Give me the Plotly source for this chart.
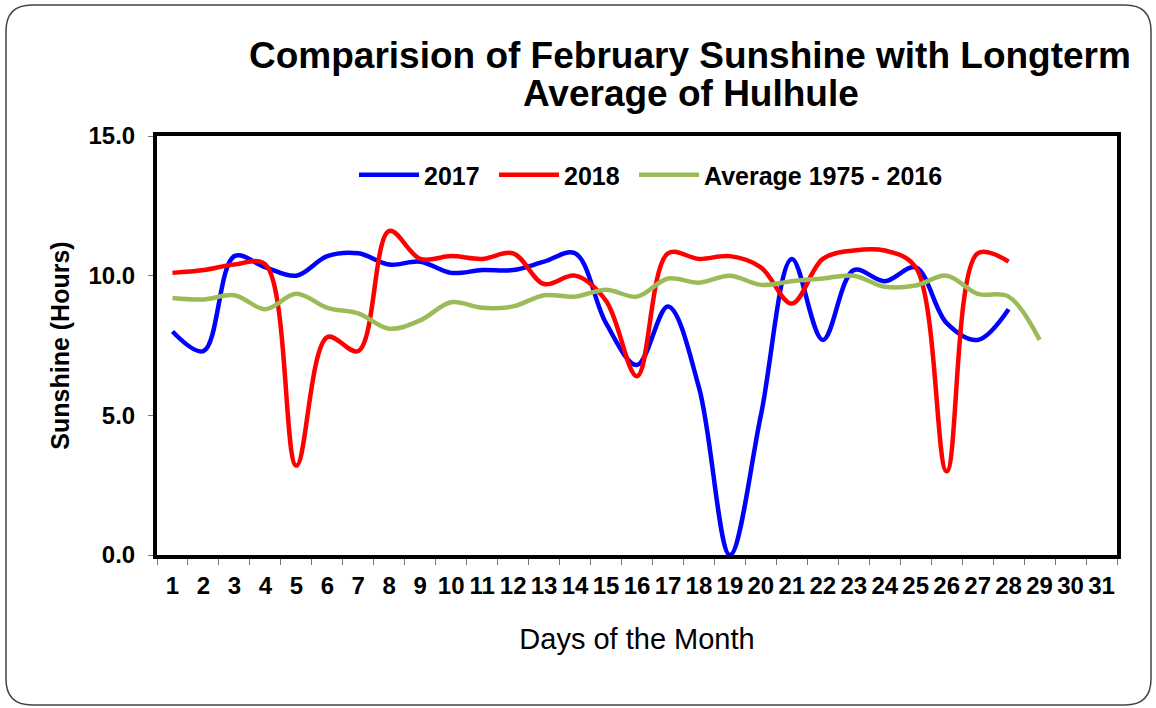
import plotly.graph_objects as go

days = [str(d) for d in range(1, 32)]
days_2017 = days[:28]
sun_2017 = [8.0, 7.3, 10.7, 10.3, 10.0, 10.7, 10.8, 10.4, 10.5, 10.1, 10.2, 10.2, 10.5, 10.8,
            8.3, 6.8, 8.9, 6.0, 0.0, 5.0, 10.6, 7.7, 10.2, 9.8, 10.3, 8.3, 7.7, 8.8]
days_2018 = days[:28]
sun_2018 = [10.1, 10.2, 10.4, 10.4, 3.2, 7.8, 7.3, 11.6, 10.6, 10.7, 10.6, 10.8, 9.7, 10.0,
            9.1, 6.4, 10.8, 10.6, 10.7, 10.3, 9.0, 10.6, 10.9, 10.9, 10.3, 3.0, 10.8, 10.5]
days_avg = days[:29]
sun_avg = [9.2, 9.15, 9.3, 8.8, 9.35, 8.85, 8.65, 8.1, 8.4, 9.05, 8.85, 8.9, 9.3, 9.25,
           9.5, 9.25, 9.9, 9.75, 10.0, 9.67, 9.8, 9.9, 10.0, 9.6, 9.65, 10.0, 9.35, 9.25, 7.7]
y_ticks = [0, 5, 10, 15]
y_tick_labels = ["0.0", "5.0", "10.0", "15.0"]

W, H = 1156, 708
L, R, T, B = 157, 1117, 136, 555

def px(x):
    return (x - L) / (R - L)

def py(y):
    return (B - y) / (B - T)

fig = go.Figure()
series = [("2017", days_2017, sun_2017, "#0000FF", "legend", 354),
          ("2018", days_2018, sun_2018, "#FF0000", "legend2", 494),
          ("Average 1975 - 2016", days_avg, sun_avg, "#9BBB59", "legend3", 634)]
legend_font = dict(size=25, family="Liberation Sans, Arial", color="black", weight="bold")
legends = {}
for name, xs, ys, col, lg, lx in series:
    fig.add_trace(go.Scatter(x=xs, y=ys, mode="lines", name=name, legend=lg,
                             line=dict(color=col, width=4.5, shape="spline", smoothing=1.0)))
    legends[lg] = dict(orientation="h", x=px(lx), y=py(175), xanchor="left", yanchor="middle",
                       font=legend_font, bgcolor="rgba(0,0,0,0)", itemwidth=60)

# rounded slide border
x0, x1, y0, y1, r = 6, 1151, 5, 705, 26
path = (f"M {px(x0+r)},{py(y0)} L {px(x1-r)},{py(y0)} Q {px(x1)},{py(y0)} {px(x1)},{py(y0+r)} "
        f"L {px(x1)},{py(y1-r)} Q {px(x1)},{py(y1)} {px(x1-r)},{py(y1)} "
        f"L {px(x0+r)},{py(y1)} Q {px(x0)},{py(y1)} {px(x0)},{py(y1-r)} "
        f"L {px(x0)},{py(y0+r)} Q {px(x0)},{py(y0)} {px(x0+r)},{py(y0)} Z")
fig.add_shape(type="path", path=path, xref="paper", yref="paper",
              line=dict(color="#444444", width=1.5), layer="below")

fig.add_annotation(text="<b>Comparision of February Sunshine with Longterm</b>",
                   x=px(690), y=py(55), xref="paper", yref="paper", showarrow=False,
                   xanchor="center", yanchor="middle",
                   font=dict(family="Liberation Sans, Arial", size=37, color="black"))
fig.add_annotation(text="<b>Average of Hulhule</b>",
                   x=px(691), y=py(94), xref="paper", yref="paper", showarrow=False,
                   xanchor="center", yanchor="middle",
                   font=dict(family="Liberation Sans, Arial", size=37, color="black"))

fig.update_layout(
    width=W, height=H,
    margin=dict(l=L, r=W - R, t=T, b=H - B),
    paper_bgcolor="white", plot_bgcolor="white",
    font=dict(family="Liberation Sans, Arial", color="black"),
    showlegend=True,
    **legends,
    xaxis=dict(type="category", categoryorder="array", categoryarray=days,
               range=[-0.5, 30.5], tickson="boundaries", ticks="outside", ticklen=6,
               tickcolor="#777777", tickwidth=1, showgrid=False, zeroline=False,
               showline=True, linewidth=4, linecolor="black", mirror=True, tickangle=0,
               ticklabelstandoff=6,
               tickfont=dict(size=24, weight="bold"),
               title=dict(text="Days of the Month", font=dict(size=29), standoff=32)),
    yaxis=dict(range=[0, 15], tickvals=y_ticks, ticktext=y_tick_labels,
               ticks="outside", ticklen=5, tickcolor="#777777", tickwidth=1,
               showgrid=False, zeroline=False, showline=True, linewidth=4,
               linecolor="black", mirror=True, ticklabelstandoff=8,
               tickfont=dict(size=24, weight="bold"),
               title=dict(text="Sunshine (Hours)", font=dict(size=25, weight="bold"), standoff=13)),
)

fig.write_html("out.html", config={"displayModeBar": False},
               post_script="document.body.style.margin='0';")
